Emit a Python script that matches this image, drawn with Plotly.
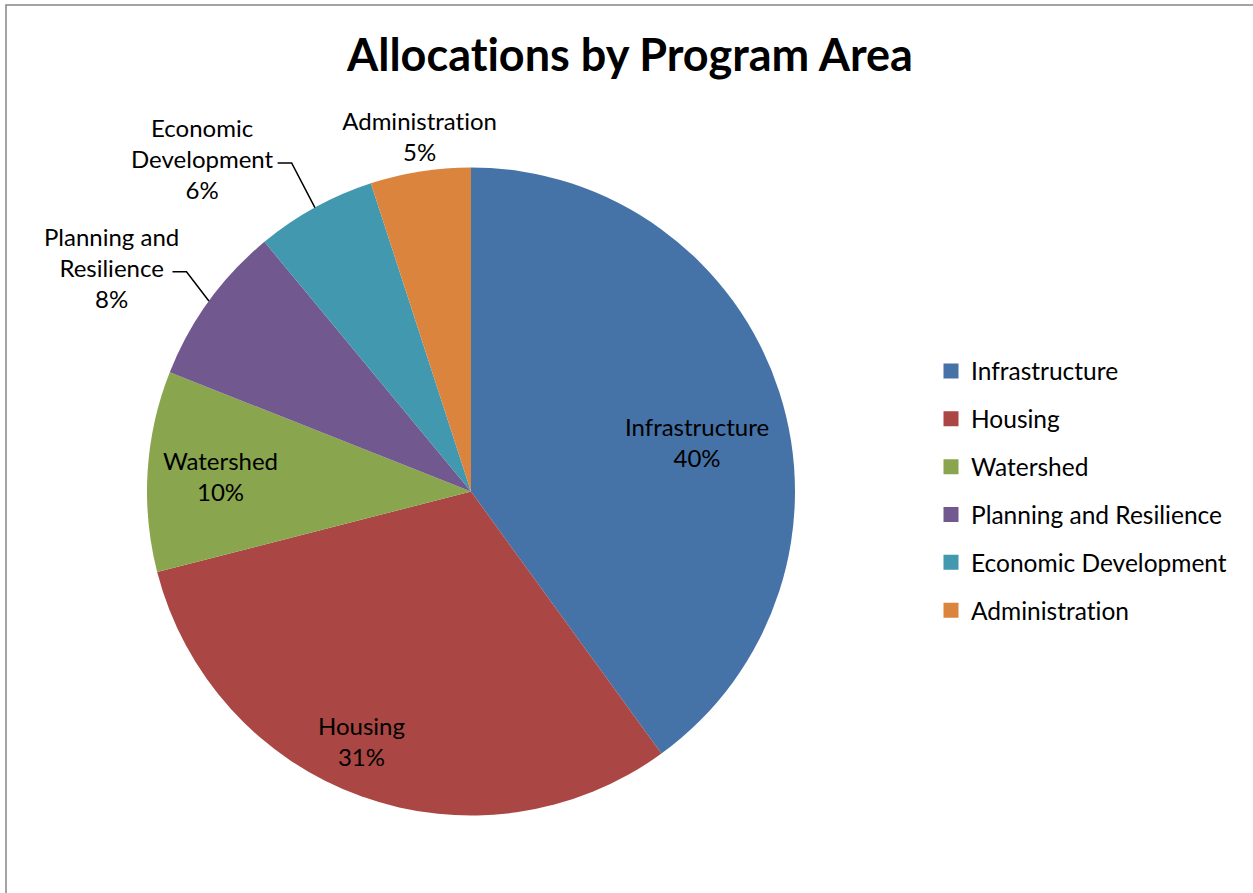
import math
import plotly.graph_objects as go

# ---- data ----
categories = ["Infrastructure", "Housing", "Watershed",
              "Planning and Resilience", "Economic Development", "Administration"]
values = [40, 31, 10, 8, 6, 5]
label_lines = ["Infrastructure", "Housing", "Watershed",
               "Planning and<br>Resilience", "Economic<br>Development", "Administration"]
title_text = "Allocations by Program Area"

# ---- style ----
colors = ["#4572A7", "#AA4643", "#89A54E", "#71588F", "#4198AF", "#DB843D"]
FONT = "Lato"
W, H = 1253, 893
pie_dom_x = [147 / W, 795 / W]
pie_dom_y = [1 - 816 / H, 1 - 167 / H]
# (radial factor, angle shift in deg, leader-line start offset px from label centre)
label_style = [
    (0.715, 5.6, None),
    (0.841, 3.9, None),
    (0.776, 0.0, None),
    (1.307, -4.1, (61, 4)),
    (1.319, -10.1, (75, 4)),
    (1.110, 0.7, None),
]

fig = go.Figure()
fig.add_trace(go.Pie(
    labels=categories, values=values, sort=False, direction="clockwise",
    rotation=0, marker=dict(colors=colors, line=dict(width=0)),
    textinfo="none", showlegend=False, hoverinfo="label+percent",
    domain=dict(x=pie_dom_x, y=pie_dom_y),
))

# legend entries (one group per category so spacing can be controlled)
for cat, col in zip(categories, colors):
    fig.add_trace(go.Scatter(
        x=[None], y=[None], mode="markers", name=cat, legendgroup=cat,
        marker=dict(symbol="square", size=15, color=col), showlegend=True,
        hoverinfo="skip",
    ))

# pie geometry in pixels
cx = (pie_dom_x[0] + pie_dom_x[1]) / 2 * W
cy = (1 - (pie_dom_y[0] + pie_dom_y[1]) / 2) * H
r = min((pie_dom_x[1] - pie_dom_x[0]) * W, (pie_dom_y[1] - pie_dom_y[0]) * H) / 2
total = sum(values)

annotations = []
shapes = []
cum = 0.0
for i, v in enumerate(values):
    mid = (cum + v / 2) / total * 360.0
    cum += v
    k, dth, lead = label_style[i]
    th = math.radians(mid + dth)
    lx = cx + k * r * math.sin(th)
    ly = cy - k * r * math.cos(th)
    pct = round(v / total * 100)
    annotations.append(dict(
        x=lx / W, y=1 - ly / H, xref="paper", yref="paper",
        text=f"{label_lines[i]}<br>{pct}%", showarrow=False,
        xanchor="center", yanchor="middle", align="center",
        font=dict(family=FONT, size=24, color="black"),
    ))
    if lead is not None:
        tm = math.radians(mid)
        ex = cx + r * math.sin(tm)
        ey = cy - r * math.cos(tm)
        sx, sy = lx + lead[0], ly + lead[1]
        bx = sx + 14
        path = (f"M {ex / W},{1 - ey / H} L {bx / W},{1 - sy / H} "
                f"L {sx / W},{1 - sy / H}")
        shapes.append(dict(type="path", path=path, xref="paper", yref="paper",
                           line=dict(color="black", width=1.5)))

# chart frame
shapes.append(dict(type="rect", xref="paper", yref="paper",
                   x0=6 / W, x1=1.02, y0=-0.02, y1=1 - 5 / H,
                   line=dict(color="#868686", width=1.5), layer="below"))

fig.update_layout(
    width=W, height=H,
    margin=dict(l=0, r=0, t=0, b=0),
    paper_bgcolor="white", plot_bgcolor="white",
    title=dict(text=f"<b>{title_text}</b>", x=630 / W, xanchor="center",
               y=1 - 55 / H, yanchor="middle",
               font=dict(family=FONT, size=45, color="black")),
    xaxis=dict(visible=False), yaxis=dict(visible=False),
    legend=dict(x=931 / W, xanchor="left", y=1 - 491 / H, yanchor="middle",
                traceorder="grouped", tracegroupgap=13,
                font=dict(family=FONT, size=24.5, color="black"),
                bgcolor="rgba(0,0,0,0)"),
    annotations=annotations, shapes=shapes,
)

page_fix = (
    "var s=document.createElement('style');"
    "s.innerHTML='html,body{margin:0;padding:0;overflow:hidden}"
    " text{font-variant-ligatures:none !important;"
    "font-feature-settings:\"liga\" 0, \"clig\" 0 !important;}';"
    "document.head.appendChild(s);"
)
fig.write_html("out.html", post_script=page_fix,
               config={"displayModeBar": False})
